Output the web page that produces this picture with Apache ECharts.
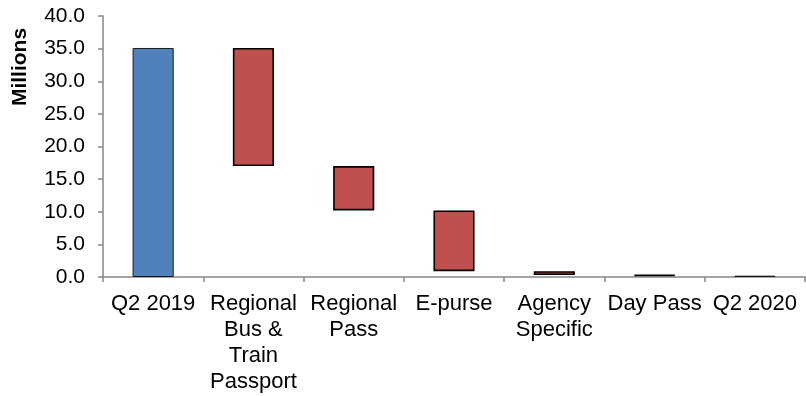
<!DOCTYPE html>
<html>
<head>
<meta charset="utf-8">
<script src="https://cdn.jsdelivr.net/npm/echarts@6/dist/echarts.min.js"></script>
<style>
  html, body { margin: 0; padding: 0; background: #fff; }
  #chart { width: 806px; height: 396px; }
</style>
</head>
<body>
<div id="chart"></div>
<script>
// Ridership bridge, Q2 2019 to Q2 2020 (millions)
const categories = ['Q2 2019', 'Regional\nBus &\nTrain\nPassport', 'Regional\nPass', 'E-purse', 'Agency\nSpecific', 'Day Pass', 'Q2 2020'];
// 'total' bars start at zero; 'drop' bars hang from the previous running level
const kinds = ['total', 'drop', 'drop', 'drop', 'drop', 'drop', 'total'];
const amounts = [35.1, 18.1, 6.8, 9.3, 0.6, 0.1, 0.2];
const yTicks = { min: 0, max: 40, interval: 5 };
const yTitle = 'Millions';

const FONT = 'Liberation Sans, Arial, sans-serif';

// Invisible base + visible segment for each step of the waterfall
const base = [];
const visible = [];
let level = 0;
amounts.forEach((v, i) => {
  if (kinds[i] === 'total') {
    base.push(0);
    visible.push({ value: v, itemStyle: { color: '#4F81BD', borderColor: '#1a1a1a', borderWidth: 1 } });
    level = v;
  } else {
    level = +(level - v).toFixed(2);
    base.push(level);
    visible.push({ value: v, itemStyle: { color: '#C0504D', borderColor: '#000', borderWidth: 1.6 } });
  }
});

const chart = echarts.init(document.getElementById('chart'), null, { renderer: 'canvas' });
chart.setOption({
  animation: false,
  grid: { left: 103, right: 1, top: 16, bottom: 119, containLabel: false },
  graphic: [{
    type: 'text',
    x: 20,
    y: 67,
    rotation: Math.PI / 2,
    style: {
      text: yTitle,
      fill: '#000',
      font: 'bold 21px ' + FONT,
      textAlign: 'center',
      textVerticalAlign: 'middle'
    }
  }],
  xAxis: {
    type: 'category',
    data: categories,
    axisLine: { lineStyle: { color: '#868686', width: 1.5 } },
    axisTick: { show: true, alignWithLabel: false, length: 5, lineStyle: { color: '#868686', width: 1.5 } },
    axisLabel: {
      interval: 0,
      color: '#000',
      fontFamily: FONT,
      fontSize: 22,
      lineHeight: 26,
      margin: 14
    }
  },
  yAxis: {
    type: 'value',
    min: yTicks.min,
    max: yTicks.max,
    interval: yTicks.interval,
    splitLine: { show: false },
    axisLine: { show: true, lineStyle: { color: '#868686', width: 1.5 } },
    axisTick: { show: true, length: 5, lineStyle: { color: '#868686', width: 1.5 } },
    axisLabel: {
      color: '#000',
      fontFamily: FONT,
      fontSize: 21,
      margin: 18,
      formatter: v => v.toFixed(1)
    }
  },
  series: [
    {
      type: 'bar',
      stack: 'w',
      data: base,
      itemStyle: { color: 'transparent', borderColor: 'transparent' },
      emphasis: { disabled: true },
      barCategoryGap: '59%'
    },
    {
      type: 'bar',
      stack: 'w',
      data: visible,
      barCategoryGap: '59%'
    }
  ]
});
</script>
</body>
</html>
